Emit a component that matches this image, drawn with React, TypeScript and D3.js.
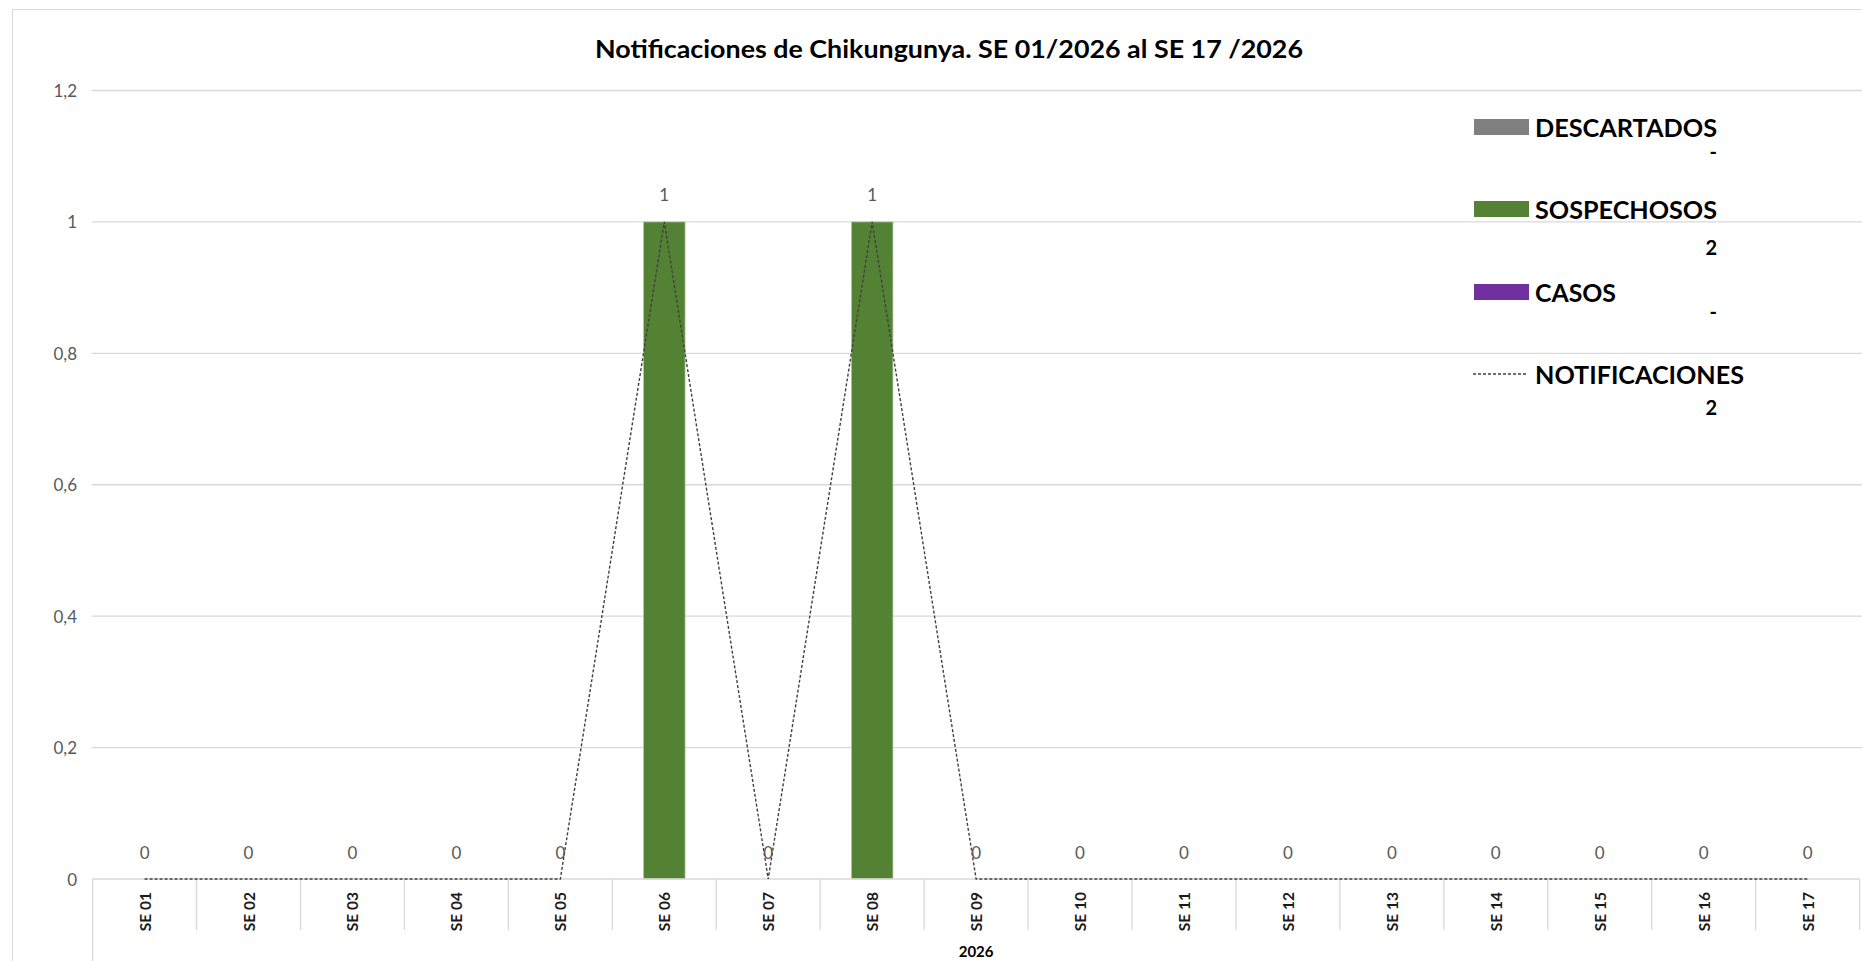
import React from 'react';
import * as d3 from 'd3';

// chart data
const categories = [
  'SE 01', 'SE 02', 'SE 03', 'SE 04', 'SE 05', 'SE 06', 'SE 07', 'SE 08', 'SE 09',
  'SE 10', 'SE 11', 'SE 12', 'SE 13', 'SE 14', 'SE 15', 'SE 16', 'SE 17',
];
const descartados = [0, 0, 0, 0, 0, 0, 0, 0, 0, 0, 0, 0, 0, 0, 0, 0, 0];
const sospechosos = [0, 0, 0, 0, 0, 1, 0, 1, 0, 0, 0, 0, 0, 0, 0, 0, 0];
const casos = [0, 0, 0, 0, 0, 0, 0, 0, 0, 0, 0, 0, 0, 0, 0, 0, 0];
const notificaciones = [0, 0, 0, 0, 0, 1, 0, 1, 0, 0, 0, 0, 0, 0, 0, 0, 0];
const yTicks = [0, 0.2, 0.4, 0.6, 0.8, 1, 1.2];
const yearLabel = '2026';
const title = 'Notificaciones de Chikungunya. SE 01/2026 al SE 17 /2026';

const seriesNames = ['DESCARTADOS', 'SOSPECHOSOS', 'CASOS'];
const seriesColors = ['#808080', '#548235', '#7030a0'];

// layout
const W = 1862;
const H = 961;
const M = { left: 92.6, right: 1859.6, top: 90.5, bottom: 879 };
const FONT = 'Lato, "Open Sans", sans-serif';
const GRID = '#d9d9d9';
const LINE = '#404040';

const esLocale = d3.formatLocale({
  decimal: ',', thousands: '.', grouping: [3], currency: ['', '€'],
});
const fmtTick = (v: number) => esLocale.format('~g')(+v.toFixed(2));

export default function App() {
  const x = d3.scaleBand<string>()
    .domain(categories)
    .range([M.left, M.right]);
  const y = d3.scaleLinear()
    .domain([0, 1.2])
    .range([M.bottom, M.top]);

  const bw = x.bandwidth();
  const barW = bw * 0.4;
  const cx = (c: string) => (x(c) as number) + bw / 2;

  // stacked bars
  const rows = categories.map((c, i) => ({
    cat: c, DESCARTADOS: descartados[i], SOSPECHOSOS: sospechosos[i], CASOS: casos[i],
  }));
  const stacked = d3.stack<any>().keys(seriesNames)(rows);

  const line = d3.line<number>()
    .x((_, i) => cx(categories[i]))
    .y((d) => y(d));

  const totals = [descartados, sospechosos, casos, notificaciones]
    .map((s) => d3.sum(s))
    .map((t) => (t === 0 ? '-' : String(t)));

  // legend layout
  const legendRowY = [127, 209, 292, 374];
  const legendValY = [151, 247, 311, 407];
  const legendNames = [...seriesNames, 'NOTIFICACIONES'];
  const legendWidths = [182, 182, 81, 209];

  const dividers = [...categories.map((c) => x(c) as number), M.right];

  return (
    <div style={{ position: 'fixed', left: 0, top: 0 }}>
      <svg width={W} height={H} style={{ display: 'block', background: '#fff' }}>
        {/* chart frame */}
        <rect x={12.5} y={9.5} width={W + 20} height={H + 20} fill="#fff" stroke={GRID} />

        {/* title */}
        <text
          x={949}
          y={58}
          textAnchor="middle"
          fontFamily={FONT}
          fontWeight="bold"
          fontSize={25}
          textLength={708}
          lengthAdjust="spacingAndGlyphs"
          fill="#000"
        >
          {title}
        </text>

        {/* gridlines + y labels */}
        {yTicks.map((t) => (
          <g key={t}>
            {t > 0 && (
              <line x1={M.left - 1} x2={W} y1={y(t)} y2={y(t)} stroke={GRID} strokeWidth={1.3} />
            )}
            <text
              x={77}
              y={y(t)}
              textAnchor="end"
              dominantBaseline="central"
              fontFamily={FONT}
              fontSize={17}
              fill="#595959"
            >
              {fmtTick(t)}
            </text>
          </g>
        ))}

        {/* bars */}
        {stacked.map((s, si) => (
          <g key={s.key} fill={seriesColors[si]}>
            {s.map((d, i) => (d[1] - d[0] > 0 ? (
              <rect
                key={categories[i]}
                x={(x(categories[i]) as number) + (bw - barW) / 2}
                y={y(d[1])}
                width={barW}
                height={y(d[0]) - y(d[1])}
                stroke="#b5c7a3"
                strokeWidth={0.8}
              />
            ) : null))}
          </g>
        ))}

        {/* category axis */}
        <line x1={M.left} x2={M.right} y1={M.bottom} y2={M.bottom} stroke={GRID} strokeWidth={1.3} />
        {dividers.map((dx, i) => (
          <line
            key={`d${i}`}
            x1={dx}
            x2={dx}
            y1={M.bottom}
            y2={i === 0 ? H : 930}
            stroke={GRID}
            strokeWidth={1.3}
          />
        ))}
        {categories.map((c) => (
          <text
            key={c}
            transform={`translate(${cx(c)},892) rotate(-90)`}
            textAnchor="end"
            dominantBaseline="central"
            fontFamily={FONT}
            fontWeight="bold"
            fontSize={15.5}
            fill="#1a1a1a"
          >
            {c}
          </text>
        ))}
        <text
          x={(M.left + M.right) / 2}
          y={951}
          textAnchor="middle"
          dominantBaseline="central"
          fontFamily={FONT}
          fontWeight="bold"
          fontSize={15}
          fill="#000"
        >
          {yearLabel}
        </text>

        {/* notifications line */}
        <path
          d={line(notificaciones) || ''}
          fill="none"
          stroke={LINE}
          strokeWidth={1.4}
          strokeDasharray="3,2"
        />
        {notificaciones.map((v, i) => (
          <text
            key={`l${i}`}
            x={cx(categories[i])}
            y={y(v) - 27}
            textAnchor="middle"
            dominantBaseline="central"
            fontFamily={FONT}
            fontSize={17}
            fill="#595959"
          >
            {v}
          </text>
        ))}

        {/* legend */}
        {legendNames.map((n, i) => (
          <g key={n}>
            {i < 3 ? (
              <rect x={1474} y={legendRowY[i] - 8} width={55} height={16} fill={seriesColors[i]} />
            ) : (
              <line
                x1={1473}
                x2={1528}
                y1={legendRowY[i]}
                y2={legendRowY[i]}
                stroke={LINE}
                strokeWidth={1.3}
                strokeDasharray="3,2"
              />
            )}
            <text
              x={1535}
              y={legendRowY[i]}
              dominantBaseline="central"
              fontFamily={FONT}
              fontWeight="bold"
              fontSize={24}
              textLength={legendWidths[i]}
              lengthAdjust="spacingAndGlyphs"
              fill="#000"
            >
              {n}
            </text>
            <text
              x={1717}
              y={legendValY[i]}
              textAnchor="end"
              dominantBaseline="central"
              fontFamily={FONT}
              fontWeight="bold"
              fontSize={20}
              fill="#000"
            >
              {totals[i]}
            </text>
          </g>
        ))}
      </svg>
    </div>
  );
}
